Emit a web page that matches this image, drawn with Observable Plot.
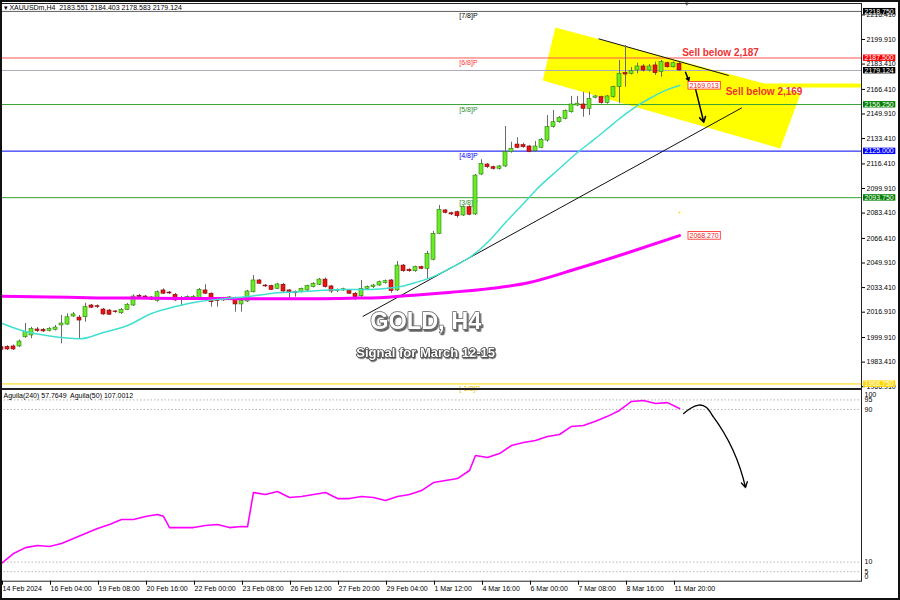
<!DOCTYPE html>
<html><head><meta charset="utf-8">
<script src="https://cdn.jsdelivr.net/npm/d3@7"></script>
<script src="https://cdn.jsdelivr.net/npm/@observablehq/plot@0.6"></script>
<style>
html,body{margin:0;padding:0;background:#fff;}
#wrap{position:relative;width:900px;height:600px;overflow:hidden;background:#fff;}
#wrap svg{display:block;}
#border{position:absolute;left:0;top:0;width:900px;height:600px;box-sizing:border-box;border:2px solid #111;pointer-events:none;}
</style>
</head><body>
<div id="wrap"><div id="charts"></div><div id="border"></div></div>
<script>
// ---------------- DATA ----------------
const open = [
1993.4,1993.5,1993.9,1993.9,2000.1,2001.3,2005.3,2005.0,2004.3,2005.0,
2008.0,2008.6,2014.0,2013.3,2013.5,2021.4,2020.9,2018.7,2018.0,2017.4,
2016.2,2018.5,2021.4,2027.9,2027.4,2025.4,2024.4,2031.5,2030.1,2028.6,
2025.4,2025.9,2026.3,2026.3,2031.5,2029.3,2025.1,2024.8,2025.6,2026.3,
2022.1,2024.1,2030.3,2038.2,2034.8,2034.4,2032.6,2035.3,2031.5,2030.3,
2030.3,2031.5,2033.7,2035.3,2038.8,2034.2,2031.0,2031.5,2031.5,2029.3,
2027.6,2032.6,2033.7,2034.8,2036.4,2038.2,2031.5,2048.2,2045.4,2044.4,
2047.1,2046.0,2052.1,2069.5,2085.2,2083.3,2084.0,2081.8,2087.4,2082.5,
2109.3,2116.0,2114.2,2113.1,2114.7,2124.3,2129.4,2129.0,2128.1,2124.9,
2127.2,2132.1,2141.1,2144.4,2146.7,2151.1,2155.6,2156.3,2153.4,2160.8,
2161.2,2157.2,2161.2,2167.9,2177.3,2176.9,2179.1,2181.8,2179.1,2182.5,
2178.0,2184.0,2181.3,2183.551];
const high = [
1994.5,1994.5,1994.9,1998.2,2009.3,2006.8,2006.6,2006.0,2006.6,2008.0,
2014.7,2015.8,2016.7,2014.7,2022.9,2022.1,2021.7,2019.4,2018.7,2018.0,
2019.4,2022.7,2028.6,2028.8,2028.1,2027.4,2031.1,2032.6,2030.8,2029.5,
2027.4,2027.8,2028.1,2032.8,2035.3,2029.8,2025.8,2026.8,2027.4,2027.0,
2025.1,2031.5,2041.5,2038.8,2035.5,2035.0,2036.2,2036.2,2032.1,2031.1,
2033.1,2035.0,2036.8,2039.5,2039.8,2034.8,2032.5,2033.0,2032.1,2030.1,
2038.2,2034.5,2035.5,2037.8,2038.5,2038.8,2050.9,2048.9,2046.0,2047.8,
2047.8,2057.8,2071.1,2088.5,2085.8,2084.0,2084.7,2088.2,2088.2,2109.3,
2119.2,2116.7,2115.0,2115.4,2141.5,2131.0,2133.9,2130.3,2128.8,2131.5,
2133.5,2148.9,2152.3,2148.2,2152.6,2161.7,2161.7,2164.5,2164.5,2162.3,
2161.9,2162.3,2168.6,2185.8,2195.9,2181.1,2184.0,2183.1,2183.1,2184.7,
2185.8,2184.7,2184.7,2184.403];
const low = [
1990.5,1991.2,1991.2,1993.2,1999.3,1999.1,2003.3,2003.3,2003.6,2004.3,
1995.7,2008.0,2013.3,1999.1,2010.2,2019.4,2019.4,2014.7,2014.7,2016.2,
2015.4,2018.0,2020.7,2026.4,2026.1,2024.8,2023.6,2028.8,2028.8,2024.1,
2021.4,2025.1,2025.4,2025.8,2028.8,2020.3,2020.3,2024.1,2024.8,2016.9,
2016.9,2023.4,2029.8,2035.5,2033.5,2031.5,2032.1,2030.1,2026.3,2027.0,
2029.8,2030.8,2033.1,2034.8,2033.1,2029.5,2030.1,2030.8,2028.8,2024.8,
2026.8,2031.8,2032.8,2034.2,2035.7,2029.6,2030.8,2043.7,2043.7,2043.7,
2045.4,2039.3,2051.4,2069.0,2082.8,2081.8,2080.0,2081.1,2081.6,2081.8,
2108.6,2113.3,2112.3,2112.3,2114.0,2123.6,2126.6,2127.0,2123.9,2124.3,
2126.6,2131.0,2140.4,2143.7,2146.0,2150.5,2154.9,2147.8,2148.9,2160.1,
2156.5,2156.5,2160.5,2156.8,2167.9,2176.1,2176.9,2178.1,2178.1,2175.8,
2174.6,2180.7,2180.7,2178.583];
const close = [
1991.7,1991.9,1991.9,1997.2,2003.5,2005.6,2004.3,2004.0,2005.6,2006.6,
2009.3,2013.5,2015.4,2011.3,2020.3,2019.9,2020.3,2015.4,2015.2,2016.9,
2018.5,2021.9,2027.4,2027.2,2026.8,2026.8,2030.3,2029.3,2029.5,2024.8,
2026.4,2027.0,2027.2,2031.9,2029.3,2023.6,2024.3,2025.8,2026.8,2022.1,
2024.3,2030.8,2038.2,2036.0,2034.2,2031.9,2035.5,2030.8,2030.3,2029.6,
2032.6,2034.4,2036.0,2038.8,2033.7,2030.8,2031.8,2032.3,2029.3,2027.0,
2032.6,2033.7,2034.8,2037.0,2037.7,2031.0,2048.2,2044.4,2044.4,2047.1,
2046.0,2056.1,2069.5,2085.6,2083.6,2082.5,2081.3,2087.4,2082.3,2108.6,
2116.5,2114.2,2113.1,2114.7,2124.3,2126.6,2127.2,2127.6,2124.5,2128.1,
2132.6,2141.1,2144.4,2147.4,2151.8,2156.3,2156.8,2153.4,2160.1,2161.7,
2157.2,2161.7,2167.9,2176.9,2176.4,2178.6,2181.8,2179.1,2181.8,2177.3,
2184.7,2181.3,2184.0,2179.124];

// moving averages (bar index, price)
const maFastBar = [0,4,8,13,17,21,25,29,33,37,41,45,49,53,57,61,64,66,69,72,75,78,81,84,87,89,93,96,99,102,105,108,111,113];
const maFastVal = [2009.5,2003.9,2000.9,1999.05,2003.3,2008.0,2016.0,2020.7,2024.1,2025.8,2027.4,2029.5,2030.5,2031.5,2032.1,2032.1,2032.8,2033.7,2036.8,2040.8,2046.9,2053.6,2063.7,2077.1,2089.8,2098.6,2113.3,2124.1,2133.5,2143.5,2152.9,2160.3,2166.3,2169.013];
const maSlowBar = [0,8,16,25,33,41,50,58,63,68,75,80,88,96,104,113];
const maSlowVal = [2027.6,2027.1,2026.5,2026.3,2026.1,2025.9,2025.9,2026.3,2026.6,2028.1,2030.3,2032.1,2036.8,2046.2,2056.3,2068.27];

// oscillator (Aguila 50)
const aguilaBar = [0,2,4,6,8,10,12,14,16,18,20,22,24,26,27,28,30,32,34,36,38,40,41,42,44,46,48,50,52,54,56,58,60,62,64,66,68,70,72,74,76,78,79,81,83,85,87,89,91,93,95,97,99,101,103,105,107,109,111,113];
const aguilaVal = [9.3,14.5,17.6,18.7,18.2,19.8,22.4,25.0,27.6,29.7,32.3,32.3,33.9,35.0,34.0,28.1,28.1,28.1,29.2,29.7,28.1,28.7,28.5,46.5,45.4,47.0,43.9,44.4,45.4,46.5,43.3,43.3,44.4,43.9,42.3,44.4,45.4,47.5,51.7,52.8,53.8,58.0,65.9,64.8,66.9,71.1,72.7,73.7,75.8,76.9,81.1,81.6,83.8,86.4,89.5,94.2,94.7,93.1,93.6,90.5];
const aguilaLevels = [95, 90, 10, 5];
const aguilaTopTick = [100], aguilaBottomTick = [0];

// axis labels
const priceTicks = [2216.41,2199.91,2183.41,2166.41,2149.91,2133.41,2116.41,2099.91,2083.41,2066.41,2049.91,2033.41,2016.91,1999.91,1983.41,1966.91];
const dateTickBar = [0,8,16,24,32,40,48,56,64,72,80,88,96,104,112];
const dateTickLabels = ["14 Feb 2024","16 Feb 04:00","19 Feb 08:00","20 Feb 16:00","22 Feb 00:00","23 Feb 08:00","26 Feb 12:00","27 Feb 20:00","29 Feb 04:00","1 Mar 12:00","4 Mar 16:00","6 Mar 00:00","7 Mar 08:00","8 Mar 16:00","11 Mar 20:00"];

// Murrey levels & price lines
const levelVals = [2218.75, 2187.5, 2179.124, 2156.25, 2125.0, 2093.75, 1968.75];
const levelNames = ["[7/8]P","[6/8]P","","[5/8]P","[4/8]P","[3/8]P","[-1/8]P"];
const levelLine = ["#606060","#ff5555","#a9a9bb","#33a033","#0000ff","#33a033","#ffd700"];
const levelNameColor = ["#000000","#ff3333","#000000","#2e8b2e","#0000ff","#2e8b2e","#e6c200"];
const levelTagBg = ["#000000","#ff0000","#000000","#008000","#0000ff","#008000","#ffd700"];
const levelLabelBar = 76.3;

// annotations (bar index, price)
const zoneBar = [92.3, 133.2, 129.8, 90.2];
const zonePrice = [2208.0, 2163.7, 2126.8, 2172.4];
const zoneLineBar = 121.0, zoneLinePrice = 2169.0;
const trendBar1 = [99.5, 60.2], trendP1 = [2200.4, 2014.0];
const trendBar2 = [121.2, 123.4], trendP2 = [2175.75, 2154.1];
const arrowBar1 = [114.0, 115.67], arrowP1 = [2177.96, 2166.8];
const arrowBar2 = [114.55, 117.05], arrowP2 = [2172.4, 2144.4];
const valueTags = [2169.013, 2068.270];
const sellText = ["Sell below 2,187", "Sell below 2,169"];
const sellBar = [113.45, 120.7], sellPrice = [2190.7, 2164.5];
const titleText = ["GOLD, H4", "Signal for March 12-15"];
const titleBar = [70.7, 70.7], titlePrice = [2010.6, 1989.9];
const header = "\u25BE XAUUSDm,H4  2183.551 2184.403 2178.583 2179.124";
const shiftMarkBar = 114.2;
const yellowDotBar = 113, yellowDotPrice = 2083.8;
const indLabel = "Aguila(240) 57.7649  Aguila(50) 107.0012";
// hand-drawn forecast arrow in oscillator panel
const curveBar = [113.7, 114.8, 116.2, 117.5, 118.5];
const curveVal = [87.9, 90.5, 92.3, 91.0, 86.8];
const fcBar1 = 118.5, fcVal1 = 86.8, fcBar2 = 124.0, fcVal2 = 49.1;

// ---------------- BUILD ----------------
const bars = open.map((o, i) => ({i, o, h: high[i], l: low[i], c: close[i], up: close[i] >= o}));
const pts = (xs, ys) => xs.map((x, k) => ({x, y: ys[k]}));
const xDom = [-1/6, 143.3333];
const font = "'Liberation Sans', Arial, sans-serif";

const main = Plot.plot({
  width: 900, height: 389,
  marginLeft: 0, marginRight: 39, marginTop: 3, marginBottom: 1,
  x: {domain: xDom, axis: null},
  y: {domain: [1965.69, 2224.07], axis: null},
  style: {fontFamily: font, fontSize: "7px", background: "white", overflow: "visible"},
  marks: [
    Plot.line(pts(zoneBar, zonePrice), {x: "x", y: "y", fill: "#ffff00", stroke: "none"}),
    Plot.ruleY([zoneLinePrice], {x1: zoneLineBar, x2: xDom[1], stroke: "#ffff00", strokeWidth: 4}),
    Plot.ruleY(levelVals, {stroke: (d, k) => levelLine[k], strokeWidth: 1}),
    Plot.text(levelVals, {x: levelLabelBar, y: d => d, text: (d, k) => levelNames[k], fill: (d, k) => levelNameColor[k], textAnchor: "start", lineAnchor: "top", dy: 2, fontSize: 7}),
    Plot.dot([0], {x: yellowDotBar, y: yellowDotPrice, r: 1, fill: "#ffe000", stroke: "none"}),
    Plot.link([0, 1], {x1: k => trendBar1[k], y1: k => trendP1[k], x2: k => trendBar2[k], y2: k => trendP2[k], stroke: "#111", strokeWidth: 1}),
    Plot.ruleX(bars, {x: "i", y1: "l", y2: "h", stroke: "#6a6a6a", strokeWidth: 1}),
    Plot.rect(bars, {x1: d => d.i - 0.5, x2: d => d.i + 0.5, y1: "o", y2: "c", insetLeft: 1, insetRight: 1,
      fill: d => d.up ? "#66ee22" : "#ee1111", stroke: d => d.up ? "#2f7a10" : "#7a0a0a", strokeWidth: 0.6}),
    Plot.line(pts(maSlowBar, maSlowVal), {x: "x", y: "y", stroke: "#ff00ff", strokeWidth: 3, curve: "monotone-x"}),
    Plot.line(pts(maFastBar, maFastVal), {x: "x", y: "y", stroke: "#40e0d0", strokeWidth: 1.5, curve: "monotone-x"}),
    Plot.arrow([0, 1], {x1: k => arrowBar1[k], y1: k => arrowP1[k], x2: k => arrowBar2[k], y2: k => arrowP2[k], stroke: "#000", strokeWidth: 1.5, headLength: 6}),
    Plot.text(valueTags, {x: 113, y: d => d, text: d => d.toFixed(3), dx: 10, textAnchor: "start", fill: "#ee2222", fontSize: 7, ariaDescription: "value-tags"}),
    Plot.text(sellText, {x: (d, k) => sellBar[k], y: (d, k) => sellPrice[k], textAnchor: "start", fill: "#ee3333", fontWeight: "bold", fontSize: 10}),
    Plot.text([titleText[0]], {x: titleBar[0], y: titlePrice[0], fontSize: 23.5, fontWeight: "bold", fill: "#ffffff", stroke: "#5a5a5a", strokeWidth: 1.4, ariaDescription: "title-big"}),
    Plot.text([titleText[1]], {x: titleBar[1], y: titlePrice[1], fontSize: 13, fontWeight: "bold", fill: "#ffffff", stroke: "#444", strokeWidth: 1.6, ariaDescription: "title-small"}),
    Plot.text([header], {frameAnchor: "top-left", dx: 3, dy: 2, textAnchor: "start", lineAnchor: "top", fill: "#000", fontSize: 7}),
    Plot.text(["\u25BC"], {x: shiftMarkBar, frameAnchor: "top", dy: -2, fontSize: 6, fill: "#555"}),
    Plot.axisY(priceTicks, {anchor: "right", label: null, tickSize: 3, tickPadding: 2, tickFormat: d => d.toFixed(3), fontSize: 7, stroke: "#000", fill: "#000"}),
    Plot.text(levelVals, {frameAnchor: "right", y: d => d, text: d => d.toFixed(3), dx: 3, textAnchor: "start", fill: "#ffffff", fontSize: 7, ariaDescription: "level-tags"}),
    Plot.frame({stroke: "#222", strokeWidth: 1})
  ]
});

const ind = Plot.plot({
  width: 900, height: 211,
  marginLeft: 0, marginRight: 39, marginTop: 0, marginBottom: 19.3,
  x: {domain: xDom, axis: null},
  y: {domain: [0, 100.47], axis: null},
  style: {fontFamily: font, fontSize: "7px", background: "white", overflow: "visible"},
  marks: [
    Plot.ruleY(aguilaLevels, {stroke: "#b5b5b5", strokeDasharray: "1.5,2"}),
    Plot.line(pts(aguilaBar, aguilaVal), {x: "x", y: "y", stroke: "#ff00ff", strokeWidth: 1.6}),
    Plot.line(pts(curveBar, curveVal), {x: "x", y: "y", stroke: "#000", strokeWidth: 1.3, curve: "natural"}),
    Plot.arrow([0], {x1: fcBar1, y1: fcVal1, x2: fcBar2, y2: fcVal2, bend: 12, stroke: "#000", strokeWidth: 1.3, headLength: 7}),
    Plot.text([indLabel], {frameAnchor: "top-left", dx: 3, dy: 4, textAnchor: "start", lineAnchor: "top", fill: "#000", fontSize: 7}),
    Plot.axisY(aguilaLevels, {anchor: "right", label: null, tickSize: 0, tickPadding: 3, fontSize: 7, fill: "#000"}),
    Plot.axisY(aguilaTopTick, {anchor: "right", label: null, tickSize: 0, tickPadding: 3, dy: 4, fontSize: 7, fill: "#000"}),
    Plot.axisY(aguilaBottomTick, {anchor: "right", label: null, tickSize: 0, tickPadding: 3, dy: -4, fontSize: 7, fill: "#000"}),
    Plot.axisX(dateTickBar, {anchor: "bottom", label: null, tickSize: 4, tickPadding: 1, textAnchor: "start", dx: 1,
      tickFormat: d => dateTickLabels[dateTickBar.indexOf(d)], fontSize: 7, stroke: "#000", fill: "#000"}),
    Plot.frame({stroke: "#222", strokeWidth: 1})
  ]
});

const host = document.getElementById("charts");
host.appendChild(main);
host.appendChild(ind);

const NS = "http://www.w3.org/2000/svg";
function boxTexts(svg, desc, fills, strokes, padX, padY, sw) {
  const g = svg.querySelector(`[aria-description="${desc}"]`);
  if (!g) return;
  g.querySelectorAll("text").forEach((t, k) => {
    const b = t.getBBox();
    const r = document.createElementNS(NS, "rect");
    r.setAttribute("x", b.x - padX);
    r.setAttribute("y", b.y - padY);
    r.setAttribute("width", b.width + 2 * padX);
    r.setAttribute("height", b.height + 2 * padY);
    r.setAttribute("fill", fills[k]);
    r.setAttribute("stroke", strokes ? strokes[k] : "none");
    r.setAttribute("stroke-width", sw);
    const tr = t.getAttribute("transform");
    if (tr) r.setAttribute("transform", tr);
    t.parentNode.insertBefore(r, t);
  });
}
boxTexts(main, "level-tags", levelTagBg, null, 1.5, -0.3, 0);
boxTexts(main, "value-tags", ["#ffffff", "#ffffff"], ["#ff2222", "#ff2222"], 1.5, 0.3, 0.8);

// drop shadow for the big title texts
const defs = document.createElementNS(NS, "defs");
defs.innerHTML = '<filter id="tshadow" x="-10%" y="-30%" width="130%" height="170%"><feDropShadow dx="1.5" dy="2" stdDeviation="0.7" flood-color="#000" flood-opacity="0.6"/></filter>' +
  '<filter id="tshadow2" x="-10%" y="-30%" width="130%" height="170%"><feDropShadow dx="1" dy="1.2" stdDeviation="0.5" flood-color="#000" flood-opacity="0.6"/></filter>';
main.insertBefore(defs, main.firstChild);
const gb = main.querySelector('[aria-description="title-big"]');
if (gb) gb.setAttribute("filter", "url(#tshadow)");
const gs = main.querySelector('[aria-description="title-small"]');
if (gs) gs.setAttribute("filter", "url(#tshadow2)");
</script>
</body></html>
